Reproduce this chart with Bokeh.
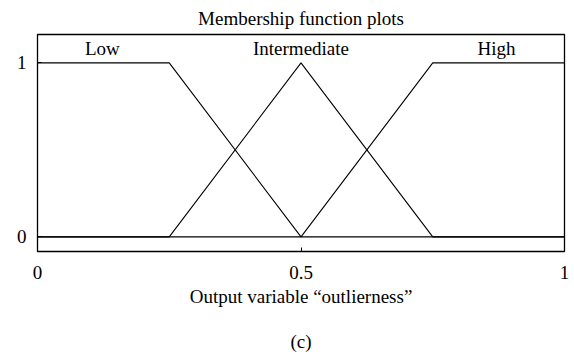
from bokeh.plotting import figure
from bokeh.models import Range1d, FixedTicker, CustomJSTickFormatter, Label
from bokeh.embed import file_html
from bokeh.resources import INLINE

# data
x_pts = [0, 0.25, 0.5, 0.75, 1]
low = [1, 1, 0, 0, 0]
intermediate = [0, 0, 1, 0, 0]
high = [0, 0, 0, 1, 1]
x_ticks = [0, 0.5, 1]
y_ticks = [0, 1]
set_names = ["Low", "Intermediate", "High"]
set_label_x = [0.123, 0.5, 0.871]
title_text = "Membership function plots"
xlabel_text = "Output variable \u201coutlierness\u201d"
caption_text = "(c)"

FONT = "Liberation Serif"
FS = "19px"

p = figure(width=574, height=354, output_backend="svg", toolbar_location=None,
           x_range=Range1d(0, 1), y_range=Range1d(-0.084, 1.163),
           min_border_left=37, min_border_right=10, min_border_top=34, min_border_bottom=101)
p.grid.visible = False
p.background_fill_color = "white"
p.border_fill_color = "white"
p.outline_line_color = "black"
p.outline_line_width = 1.3

for ys in (low, intermediate, high):
    p.line(x_pts, ys, line_color="black", line_width=1.1)

fmt = CustomJSTickFormatter(code="return tick.toString();")
for ax, ticks in ((p.xaxis[0], x_ticks), (p.yaxis[0], y_ticks)):
    ax.ticker = FixedTicker(ticks=ticks)
    ax.formatter = fmt
    ax.axis_line_color = None
    ax.major_tick_in = 4
    ax.major_tick_out = 0
    ax.minor_tick_line_color = None
    ax.major_tick_line_color = "black"
    ax.major_label_text_font = FONT
    ax.major_label_text_font_size = FS
    ax.major_label_text_color = "black"
p.xaxis.major_label_standoff = 14
p.yaxis.major_label_standoff = 11
# axis label with the figure caption as a further line below it
p.xaxis.axis_label = xlabel_text + "\n\n" + caption_text
p.xaxis.axis_label_text_font = FONT
p.xaxis.axis_label_text_font_size = FS
p.xaxis.axis_label_text_font_style = "normal"
p.xaxis.axis_label_text_color = "black"
p.xaxis.axis_label_text_line_height = 1.08
p.xaxis.axis_label_standoff = 4

for name, xx in zip(set_names, set_label_x):
    p.add_layout(Label(x=xx, y=1.08, text=name, text_align="center",
                       text_baseline="middle", text_font=FONT,
                       text_font_size=FS, text_color="black"))

p.title.text = title_text
p.title.align = "center"
p.title.offset = 3
p.title.standoff = 11
p.title.text_font = FONT
p.title.text_font_size = FS
p.title.text_font_style = "normal"
p.title.text_color = "black"

open("out.html", "w").write(file_html(p, INLINE))
